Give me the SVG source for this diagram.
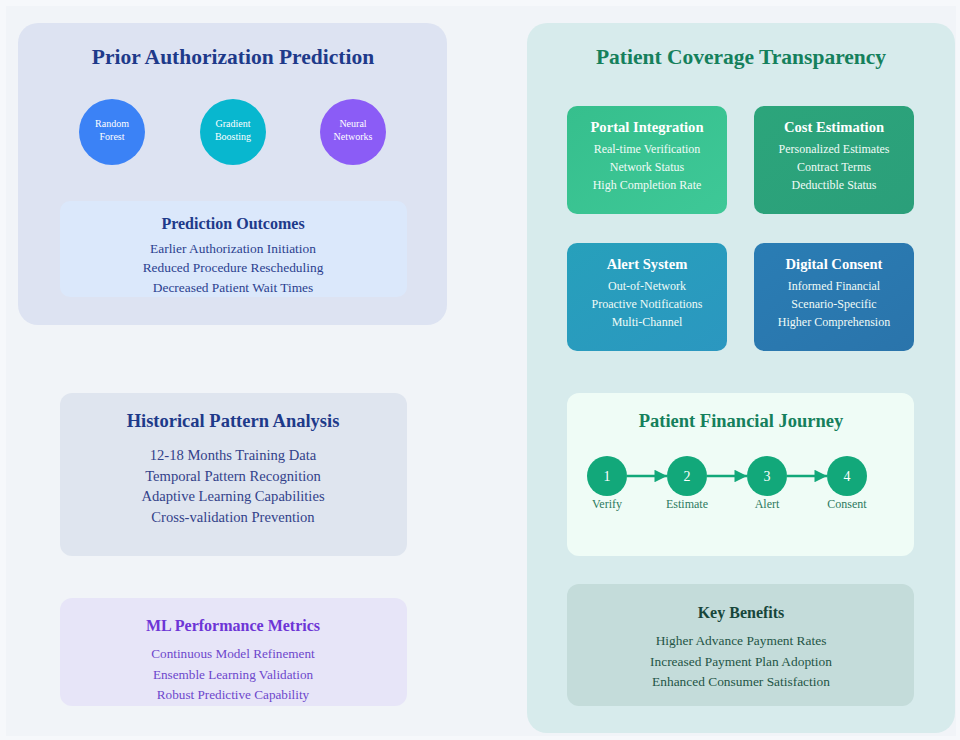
<svg xmlns="http://www.w3.org/2000/svg" width="960" height="740" viewBox="0 0 960 740">
<defs>
<style>
text{font-family:"Liberation Serif","Times New Roman",serif;text-anchor:middle;}
.h1{font-size:21.5px;font-weight:bold;}
.h2{font-size:18.5px;font-weight:bold;}
.h3{font-size:16px;font-weight:bold;}
.ct{font-size:14.6px;font-weight:bold;fill:#ffffff;}
.cl{font-size:12px;fill:#f0fbf7;}
.ml{font-size:10px;fill:#ffffff;}
.blue{fill:#1e3a8a;}
.bline{fill:#2b3f8f;font-size:13.4px;}
.hline{fill:#33428a;font-size:14.6px;}
.purple{fill:#6d35d6;}
.pline{fill:#6d47cc;font-size:13.2px;}
.green{fill:#15805c;}
.jl{fill:#2d7a60;font-size:12px;}
.kt{fill:#17463a;}
.kl{fill:#1f5546;font-size:13.4px;}
.num{font-size:14px;fill:#ffffff;}
.conn{stroke:#12a87a;stroke-width:2.5;fill:none;}
</style>
<marker id="arr" viewBox="0 0 10 10" refX="10" refY="5" markerWidth="5.5" markerHeight="5" orient="auto" markerUnits="strokeWidth">
<path d="M0,0 L10,5 L0,10 z" fill="#12a87a"/>
</marker>
<linearGradient id="gPortal" x1="0" y1="0" x2="1" y2="1"><stop offset="0" stop-color="#36bf8d"/><stop offset="1" stop-color="#3ec897"/></linearGradient>
<linearGradient id="gCost" x1="0" y1="0" x2="1" y2="1"><stop offset="0" stop-color="#2ca57b"/><stop offset="1" stop-color="#2b9f7a"/></linearGradient>
<linearGradient id="gAlert" x1="0" y1="0" x2="1" y2="1"><stop offset="0" stop-color="#27a0bb"/><stop offset="1" stop-color="#2b97c0"/></linearGradient>
<linearGradient id="gDigital" x1="0" y1="0" x2="1" y2="1"><stop offset="0" stop-color="#2a7db4"/><stop offset="1" stop-color="#2a74ab"/></linearGradient>
</defs>
<rect x="0" y="0" width="960" height="740" fill="#f6f8fb"/>
<rect x="6" y="6" width="950" height="730" fill="#f1f4f8"/>

<g id="prior-authorization">
<rect x="18" y="23" width="429" height="302" rx="20" fill="#dde3f2"/>
<text class="h1 blue" x="233" y="64">Prior Authorization Prediction</text>
</g>
<g id="random-forest">
<circle cx="112" cy="132" r="33" fill="#3b82f6"/>
<text class="ml" x="112" y="127">Random</text>
<text class="ml" x="112" y="140">Forest</text>
</g>
<g id="gradient-boosting">
<circle cx="233" cy="132" r="33" fill="#08b7cf"/>
<text class="ml" x="233" y="127">Gradient</text>
<text class="ml" x="233" y="140">Boosting</text>
</g>
<g id="neural-networks">
<circle cx="353" cy="132" r="33" fill="#8b5cf6"/>
<text class="ml" x="353" y="127">Neural</text>
<text class="ml" x="353" y="140">Networks</text>
</g>
<g id="prediction-outcomes">
<rect x="60" y="201" width="347" height="96" rx="10" fill="#dbe8fb"/>
<text class="h3 blue" x="233" y="229">Prediction Outcomes</text>
<text class="bline" x="233" y="253">Earlier Authorization Initiation</text>
<text class="bline" x="233" y="272">Reduced Procedure Rescheduling</text>
<text class="bline" x="233" y="292">Decreased Patient Wait Times</text>
</g>

<g id="historical-pattern-analysis">
<rect x="60" y="393" width="347" height="163" rx="12" fill="#dfe5ef"/>
<text class="h2 blue" x="233" y="427">Historical Pattern Analysis</text>
<text class="hline" x="233" y="460">12-18 Months Training Data</text>
<text class="hline" x="233" y="481">Temporal Pattern Recognition</text>
<text class="hline" x="233" y="501">Adaptive Learning Capabilities</text>
<text class="hline" x="233" y="522">Cross-validation Prevention</text>
</g>

<g id="ml-performance-metrics">
<rect x="60" y="598" width="347" height="108" rx="12" fill="#e7e5f8"/>
<text class="h3 purple" x="233" y="631">ML Performance Metrics</text>
<text class="pline" x="233" y="658">Continuous Model Refinement</text>
<text class="pline" x="233" y="679">Ensemble Learning Validation</text>
<text class="pline" x="233" y="699">Robust Predictive Capability</text>
</g>

<g id="patient-coverage-transparency">
<rect x="527" y="23" width="428" height="710" rx="20" fill="#d7ebec"/>
<text class="h1 green" x="741" y="64">Patient Coverage Transparency</text>
</g>
<g id="portal-integration">
<rect x="567" y="106" width="160" height="108" rx="10" fill="url(#gPortal)"/>
<text class="ct" x="647" y="132">Portal Integration</text>
<text class="cl" x="647" y="153">Real-time Verification</text>
<text class="cl" x="647" y="171">Network Status</text>
<text class="cl" x="647" y="189">High Completion Rate</text>
</g>
<g id="cost-estimation">
<rect x="754" y="106" width="160" height="108" rx="10" fill="url(#gCost)"/>
<text class="ct" x="834" y="132">Cost Estimation</text>
<text class="cl" x="834" y="153">Personalized Estimates</text>
<text class="cl" x="834" y="171">Contract Terms</text>
<text class="cl" x="834" y="189">Deductible Status</text>
</g>
<g id="alert-system">
<rect x="567" y="243" width="160" height="108" rx="10" fill="url(#gAlert)"/>
<text class="ct" x="647" y="269">Alert System</text>
<text class="cl" x="647" y="290">Out-of-Network</text>
<text class="cl" x="647" y="308">Proactive Notifications</text>
<text class="cl" x="647" y="326">Multi-Channel</text>
</g>
<g id="digital-consent">
<rect x="754" y="243" width="160" height="108" rx="10" fill="url(#gDigital)"/>
<text class="ct" x="834" y="269">Digital Consent</text>
<text class="cl" x="834" y="290">Informed Financial</text>
<text class="cl" x="834" y="308">Scenario-Specific</text>
<text class="cl" x="834" y="326">Higher Comprehension</text>
</g>

<g id="patient-financial-journey">
<rect x="567" y="393" width="347" height="163" rx="12" fill="#effcf6"/>
<text class="h2 green" x="741" y="427">Patient Financial Journey</text>
</g>
<g id="step-1">
<circle cx="607" cy="476" r="20" fill="#12a87a"/>
<text class="num" x="607" y="481">1</text>
<text class="jl" x="607" y="508">Verify</text>
</g>
<g id="step-2">
<circle cx="687" cy="476" r="20" fill="#12a87a"/>
<text class="num" x="687" y="481">2</text>
<text class="jl" x="687" y="508">Estimate</text>
</g>
<g id="step-3">
<circle cx="767" cy="476" r="20" fill="#12a87a"/>
<text class="num" x="767" y="481">3</text>
<text class="jl" x="767" y="508">Alert</text>
</g>
<g id="step-4">
<circle cx="847" cy="476" r="20" fill="#12a87a"/>
<text class="num" x="847" y="481">4</text>
<text class="jl" x="847" y="508">Consent</text>
</g>

<g id="connectors">
<line class="conn" x1="627" y1="476" x2="667" y2="476" marker-end="url(#arr)"/>
<line class="conn" x1="707" y1="476" x2="747" y2="476" marker-end="url(#arr)"/>
<line class="conn" x1="787" y1="476" x2="827" y2="476" marker-end="url(#arr)"/>
</g>

<g id="key-benefits">
<rect x="567" y="584" width="347" height="122" rx="12" fill="#c4dcda"/>
<text class="h3 kt" x="741" y="618">Key Benefits</text>
<text class="kl" x="741" y="645">Higher Advance Payment Rates</text>
<text class="kl" x="741" y="666">Increased Payment Plan Adoption</text>
<text class="kl" x="741" y="686">Enhanced Consumer Satisfaction</text>
</g>
</svg>
